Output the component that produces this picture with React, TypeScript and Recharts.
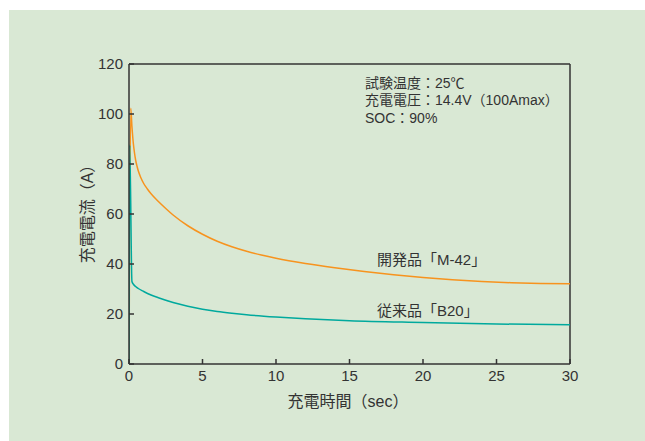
import { LineChart, Line, XAxis, YAxis, ReferenceLine } from "recharts";

// 開発品「M-42」 (sec, A)
const devTime = [0, 0.12, 0.2, 0.29, 0.37, 0.45, 0.55, 0.63, 0.8, 1, 1.25, 1.5, 2, 2.5, 3, 4, 5, 6, 7, 8, 9, 10, 12, 14, 16, 18, 20, 22, 24, 26, 28, 30];
const devCurrent = [0, 102.3, 95, 88.5, 84.6, 81.6, 79, 77.3, 74.6, 72.2, 70, 68.1, 65, 62.2, 59.6, 55.3, 51.9, 49.1, 46.9, 45.1, 43.6, 42.3, 40.2, 38.5, 37, 35.7, 34.6, 33.7, 33, 32.5, 32.2, 32.1];

// 従来品「B20」 (sec, A)
const oldTime = [0, 0.05, 0.2, 0.3, 0.45, 0.63, 1, 1.5, 2, 3, 4, 5, 6, 7, 8, 10, 12, 15, 20, 25, 30];
const oldCurrent = [0, 87.6, 33, 31.9, 31, 30.2, 29, 27.6, 26.5, 24.6, 23.1, 21.9, 21, 20.3, 19.7, 18.8, 18.1, 17.3, 16.6, 16, 15.7];

const xTicks = [0, 5, 10, 15, 20, 25, 30];
const yTicks = [0, 20, 40, 60, 80, 100, 120];

const notes = ["試験温度：25℃", "充電電圧：14.4V（100Amax）", "SOC：90%"];

const devData = devTime.map((t, i) => ({ t, a: devCurrent[i] }));
const oldData = oldTime.map((t, i) => ({ t, a: oldCurrent[i] }));

const FONT = "'Liberation Sans', 'Noto Sans CJK JP', sans-serif";
const INK = "#333333";
const tickStyle = { fill: INK, fontSize: 15, fontFamily: FONT };

export default function App() {
  return (
    <div style={{ position: "absolute", left: 0, top: 0, width: 645, height: 441, background: "#ffffff", fontFamily: FONT }}>
      <div style={{ position: "absolute", left: 9, top: 10, width: 636, height: 431, background: "#d9e8d4" }} />
      <div style={{ position: "absolute", left: 0, top: 0 }}>
        <LineChart width={645} height={441} data={devData} margin={{ top: 64, right: 75, left: 89, bottom: 47 }}>
          <XAxis
            dataKey="t"
            type="number"
            domain={[0, 30]}
            ticks={xTicks}
            tickSize={-5}
            tickMargin={11}
            tick={tickStyle}
            stroke={INK}
            strokeWidth={1.5}
            height={30}
            allowDataOverflow
          />
          <YAxis
            type="number"
            domain={[0, 120]}
            ticks={yTicks}
            tickSize={-5}
            tickMargin={11}
            tick={tickStyle}
            stroke={INK}
            strokeWidth={1.5}
            width={40}
          />
          <ReferenceLine y={120} stroke={INK} strokeWidth={1.5} />
          <ReferenceLine x={30} stroke={INK} strokeWidth={1.5} />
          <Line data={devData} dataKey="a" type="monotone" stroke="#f7931e" strokeWidth={1.5} dot={false} isAnimationActive={false} />
          <Line data={oldData} dataKey="a" type="monotone" stroke="#00a99d" strokeWidth={1.5} dot={false} isAnimationActive={false} />
        </LineChart>
      </div>
      <div
        style={{
          position: "absolute",
          left: 86,
          top: 210,
          transform: "translate(-50%, -50%) rotate(-90deg)",
          whiteSpace: "nowrap",
          fontSize: 16,
          color: INK,
        }}
      >
        充電電流（A）
      </div>
      <div
        style={{
          position: "absolute",
          left: 348,
          top: 400,
          transform: "translate(-50%, -50%)",
          whiteSpace: "nowrap",
          fontSize: 16,
          color: INK,
        }}
      >
        充電時間（sec）
      </div>
      <div style={{ position: "absolute", left: 365, top: 74.5, fontSize: 14, lineHeight: "17.5px", color: INK, whiteSpace: "nowrap" }}>
        {notes.map((n) => (
          <div key={n}>{n}</div>
        ))}
      </div>
      <div style={{ position: "absolute", left: 377, top: 248, fontSize: 15, color: INK, whiteSpace: "nowrap" }}>開発品「M-42」</div>
      <div style={{ position: "absolute", left: 377, top: 299, fontSize: 15, color: INK, whiteSpace: "nowrap" }}>従来品「B20」</div>
    </div>
  );
}
